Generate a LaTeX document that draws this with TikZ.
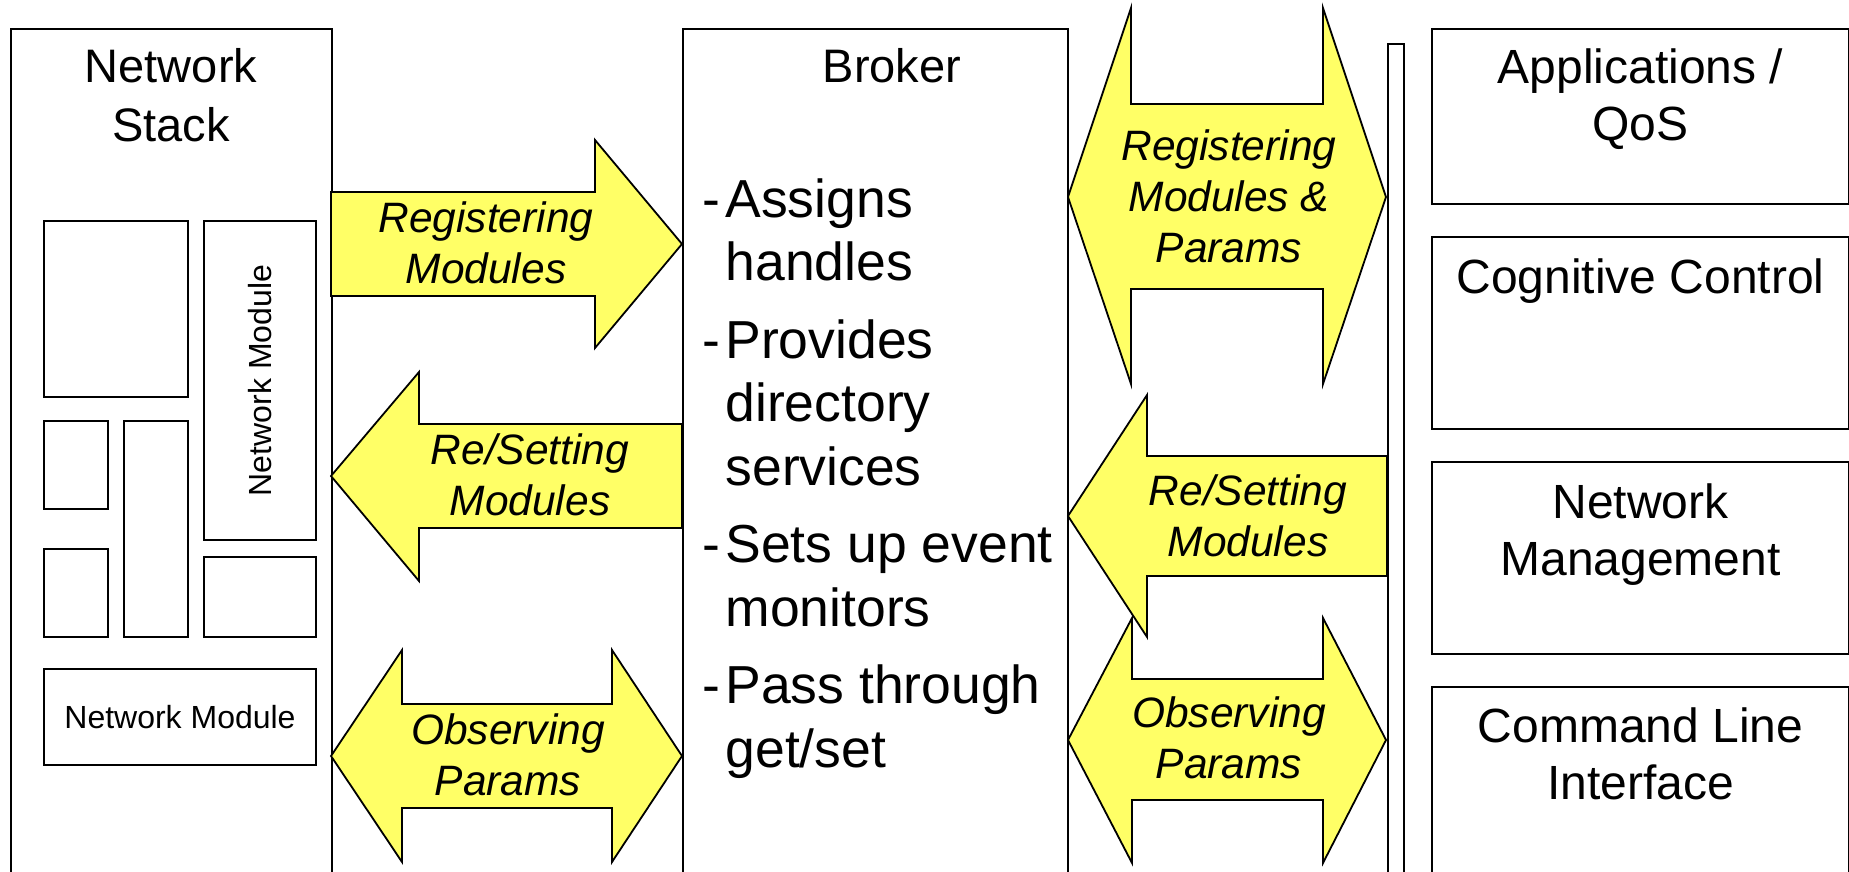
\documentclass[tikz,border=0pt]{standalone}
\usepackage{fontspec}
\setmainfont{Liberation Sans}
\usetikzlibrary{positioning}
\definecolor{arrowyellow}{HTML}{FFFF66}
\newcommand{\itemdash}{\makebox[23pt][l]{-}}
\newcommand{\itemskip}{\hspace*{23pt}}

\begin{document}
\begin{tikzpicture}[x=1pt, y=-1pt,
  box/.style={rectangle, draw, line width=2pt, inner sep=0pt},
  blockarrow/.style={draw, line width=1.8pt, fill=arrowyellow, line join=miter},
  heading/.style={anchor=base, align=center, font=\fontsize{47}{59}\selectfont},
  boxtitle/.style={anchor=base, align=center, font=\fontsize{48}{57}\selectfont},
  flowlabel/.style={anchor=base, align=center, font=\fontsize{42.5}{51}\selectfont\itshape},
  modlabel/.style={font=\fontsize{32}{38}\selectfont}]
\useasboundingbox (0,0) rectangle (1849,872);
\clip (0,0) rectangle (1849,872);

% network stack and its modules (text nodes sit on their last baseline)
\node[box, anchor=north west, minimum width=321pt, minimum height=900pt] (stack) at (10,28) {};
\node[heading] (stacktitle) at (171,142) {Network\\Stack};
\node[box, anchor=north west, minimum width=144pt, minimum height=176pt] (modA) at (43,220) {};
\node[box, anchor=north west, minimum width=112pt, minimum height=319pt] (modB) at (203,220) {};
\node[modlabel, rotate=90] (modBtext) at (modB.center) {Network Module};
\node[box, anchor=north west, minimum width=64pt, minimum height=88pt] (modC) at (43,420) {};
\node[box, anchor=north west, minimum width=64pt, minimum height=216pt] (modD) at (123,420) {};
\node[box, anchor=north west, minimum width=64pt, minimum height=88pt] (modE) at (43,548) {};
\node[box, anchor=north west, minimum width=112pt, minimum height=80pt] (modF) at (203,556) {};
\node[box, anchor=north west, minimum width=272pt, minimum height=96pt, modlabel] (modG) at (43,668) {Network Module};

% broker
\node[box, anchor=north west, minimum width=385pt, minimum height=900pt] (broker) at (682,28) {};
\node[heading] (brokertitle) at (892,83) {Broker};
\node[anchor=base west, align=left, font=\fontsize{53.5}{63.5}\selectfont] (duties) at (699,767)
  {\itemdash Assigns\\ \itemskip handles\\[14pt]
   \itemdash Provides\\ \itemskip directory\\ \itemskip services\\[14pt]
   \itemdash Sets up event\\ \itemskip monitors\\[14pt]
   \itemdash Pass through\\ \itemskip get/set};

% control side
\node[box, anchor=north west, minimum width=16pt, minimum height=900pt] (bar) at (1387,43) {};
\node[box, anchor=north west, minimum width=417pt, minimum height=175pt] (apps) at (1431,28) {};
\node[box, minimum width=417pt, minimum height=192pt, below=31pt of apps] (cog) {};
\node[box, minimum width=417pt, minimum height=192pt, below=31pt of cog] (mgmt) {};
\node[box, minimum width=417pt, minimum height=250pt, below=31pt of mgmt] (cli) {};
\node[boxtitle] (appstitle) at ([yshift=-112pt]apps.north) {Applications /\\QoS};
\node[boxtitle] (cogtitle) at ([yshift=-57pt]cog.north) {Cognitive Control};
\node[boxtitle] (mgmttitle) at ([yshift=-114pt]mgmt.north) {Network\\Management};
\node[boxtitle] (clititle) at ([yshift=-113pt]cli.north) {Command Line\\Interface};

% stack <-> broker
\draw[blockarrow] (331,192) -- (595,192) -- (595,140) -- (682,244) -- (595,348) -- (595,296) -- (331,296) -- cycle;
\draw[blockarrow] (682,424) -- (419,424) -- (419,372) -- (331,476) -- (419,581) -- (419,528) -- (682,528) -- cycle;
\draw[blockarrow] (331,756) -- (402,650) -- (402,704) -- (612,704) -- (612,650) -- (682,756)
  -- (612,862) -- (612,808) -- (402,808) -- (402,862) -- cycle;
\node[flowlabel] (regLbl) at (486,283) {Registering\\Modules};
\node[flowlabel] (setLbl) at (530,515) {Re/Setting\\Modules};
\node[flowlabel] (obsLbl) at (508,795) {Observing\\Params};

% broker <-> control
\draw[blockarrow] (1068,197) -- (1131,8) -- (1131,104) -- (1323,104) -- (1323,8) -- (1386,197)
  -- (1323,384) -- (1323,289) -- (1131,289) -- (1131,384) -- cycle;
\draw[blockarrow] (1068,740) -- (1132,618) -- (1132,679) -- (1323,679) -- (1323,618) -- (1386,740)
  -- (1323,863) -- (1323,800) -- (1132,800) -- (1132,863) -- cycle;
\draw[blockarrow] (1387,456) -- (1147,456) -- (1147,395) -- (1068,516) -- (1147,637) -- (1147,576) -- (1387,576) -- cycle;
\node[flowlabel] (regParLbl) at (1229,262) {Registering\\Modules \&\\Params};
\node[flowlabel] (setCtlLbl) at (1248,556) {Re/Setting\\Modules};
\node[flowlabel] (obsCtlLbl) at (1229,778) {Observing\\Params};
\end{tikzpicture}
\end{document}
